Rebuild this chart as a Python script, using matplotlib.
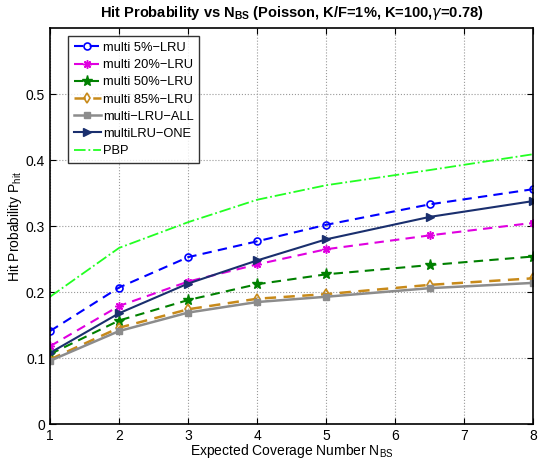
import matplotlib.pyplot as plt

# expected coverage number N_BS
n_bs = [1, 2, 3, 4, 5, 6.5, 8]

# hit probabilities
multi_5 = [0.141, 0.207, 0.253, 0.277, 0.302, 0.333, 0.356]
multi_20 = [0.118, 0.179, 0.216, 0.242, 0.265, 0.286, 0.305]
multi_50 = [0.106, 0.157, 0.188, 0.212, 0.227, 0.241, 0.254]
multi_85 = [0.098, 0.146, 0.174, 0.190, 0.197, 0.211, 0.221]
lru_all = [0.096, 0.141, 0.169, 0.185, 0.193, 0.206, 0.214]
lru_one = [0.108, 0.168, 0.213, 0.248, 0.280, 0.314, 0.338]
pbp = [0.193, 0.267, 0.306, 0.340, 0.362, 0.385, 0.409]

plt.rcParams['font.family'] = ['Liberation Sans', 'DejaVu Sans']

fig = plt.figure(figsize=(5.38, 4.62), dpi=100)
ax = fig.add_axes([0.093, 0.082, 0.898, 0.857])

dash = (4.5, 3)
ax.plot(n_bs, multi_5, '--', dashes=dash, color='#0000ff', marker='o', mfc='none', mew=1.2, ms=5, lw=1.5, label='multi 5%\u2212LRU')
ax.plot(n_bs, multi_20, '--', dashes=dash, color='#e000e0', marker=(8, 2, 0), mew=1.1, ms=6, lw=1.5, label='multi 20%\u2212LRU')
ax.plot(n_bs, multi_50, '--', dashes=dash, color='#008000', marker='*', ms=8, lw=1.5, label='multi 50%\u2212LRU')
ax.plot(n_bs, multi_85, '--', dashes=dash, color='#c88a1a', marker='d', mfc='none', mew=1.2, ms=5, lw=1.8, label='multi 85%\u2212LRU')
ax.plot(n_bs, lru_all, '-', color='#8c8c8c', marker='s', ms=4.5, lw=1.8, label='multi\u2212LRU\u2212ALL')
ax.plot(n_bs, lru_one, '-', color='#1a2f6e', marker='>', ms=6, lw=1.5, label='multiLRU\u2212ONE')
ax.plot(n_bs, pbp, '-.', color='#22ff22', lw=1.3, label='PBP')

ax.set_xlim(1, 8)
ax.set_ylim(0, 0.6)
ax.set_xticks(range(1, 9))
ax.set_yticks([0, 0.1, 0.2, 0.3, 0.4, 0.5])
ax.set_yticklabels(['0', '0.1', '0.2', '0.3', '0.4', '0.5'])
ax.grid(True, linestyle=':', color='#999999', lw=0.8)
ax.tick_params(direction='in', labelsize=10, length=4, top=True, right=True)
for s in ax.spines.values():
    s.set_linewidth(1.2)

ax.set_xlabel('Expected Coverage Number N$_{\\mathregular{BS}}$', fontsize=10, labelpad=-1)
ax.set_ylabel('Hit Probability P$_{\\mathregular{hit}}$', fontsize=10, labelpad=1)
ax.set_title('Hit Probability vs N$_{\\mathregular{BS}}$ (Poisson, K/F=1%, K=100,$\\gamma$=0.78)',
             fontsize=10.5, fontweight='bold', pad=8)

leg = ax.legend(loc='upper left', bbox_to_anchor=(0.037, 0.98), borderaxespad=0,
                fontsize=9.3, frameon=True, fancybox=False, edgecolor='black',
                handlelength=2.1, labelspacing=0.4, borderpad=0.45, handletextpad=0.15)
leg.get_frame().set_linewidth(1.0)

fig.savefig('out.png', dpi=100)
